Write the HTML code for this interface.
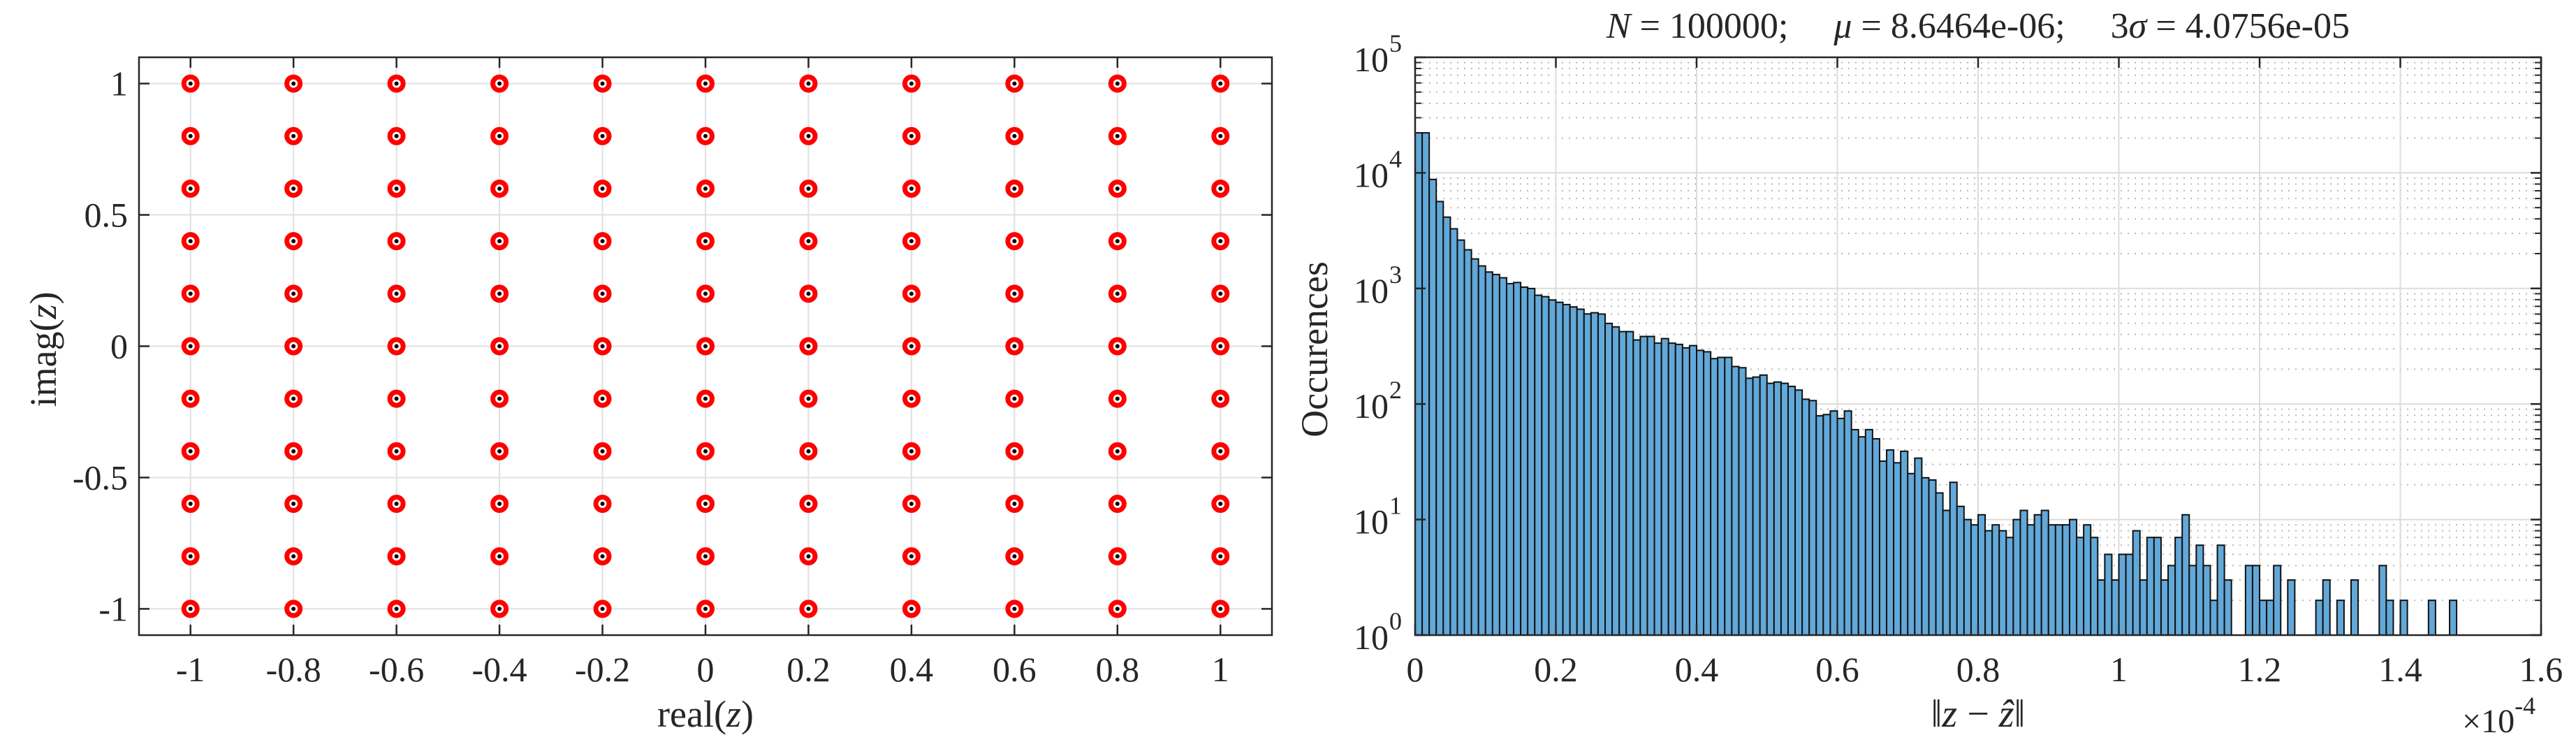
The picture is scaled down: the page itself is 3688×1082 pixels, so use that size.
<!DOCTYPE html>
<html><head><meta charset="utf-8"><style>
html,body{margin:0;padding:0;background:#fff}
svg{display:block;font-family:"Liberation Serif",serif}
.pre{white-space:pre}
</style></head><body>
<svg id="fig" width="3688" height="1082" viewBox="0 0 3688 1082" xmlns="http://www.w3.org/2000/svg">
<g id="left"></g>
<g id="right"></g>
</svg>
<script>
// ---- Left chart data ----
const gridRe = [-1,-0.8,-0.6,-0.4,-0.2,0,0.2,0.4,0.6,0.8,1];
const gridIm = [-1,-0.8,-0.6,-0.4,-0.2,0,0.2,0.4,0.6,0.8,1];
const leftXTicks = [-1,-0.8,-0.6,-0.4,-0.2,0,0.2,0.4,0.6,0.8,1];
const leftXTickLabels = ["-1","-0.8","-0.6","-0.4","-0.2","0","0.2","0.4","0.6","0.8","1"];
const leftYTicks = [-1,-0.5,0,0.5,1];
const leftYTickLabels = ["-1","-0.5","0","0.5","1"];
// ---- Right chart data ----
const binWidth = 1e-6;
const counts = [22200,22200,8770,5650,4140,3280,2620,2160,1800,1565,1387,1320,1236,1100,1125,1026,998,873,849,795,759,725,692,661,602,616,600,498,465,423,423,358,384,384,336,368,336,328,306,320,291,283,247,253,253,211,206,167,171,178,151,155,151,142,132,110,107,79,81,87,75,87,60,52,60,50,32,40,31,39,25,34,23,22,17,12,21,13,10,9,11,8,9,8,7,10,12,9,11,12,9,9,9,10,7,9,7,3,5,3,5,5,8,3,7,7,3,4,7,11,4,6,4,2,6,3,0,0,4,4,2,2,4,0,3,0,0,0,2,3,0,2,0,3,0,0,0,4,2,0,2,0,0,0,2,0,0,2];
const rightXTicks = [0,0.2e-4,0.4e-4,0.6e-4,0.8e-4,1e-4,1.2e-4,1.4e-4,1.6e-4];
const rightXTickLabels = ["0","0.2","0.4","0.6","0.8","1","1.2","1.4","1.6"];
const rightYExps = [0,1,2,3,4,5];

const NS="http://www.w3.org/2000/svg";
function mk(parent,tag,attrs,text){const e=document.createElementNS(NS,tag);for(const k in attrs)e.setAttribute(k,attrs[k]);if(text!==undefined)e.textContent=text;parent.appendChild(e);return e;}
const AX="#262626";
const TF=50;

// ===== Left =====
const L=document.getElementById('left');
const lx0=199,lx1=1821,ly0=82,ly1=909;
const lxs=v=>lx0+(v+1.1)/2.2*(lx1-lx0);
const lys=v=>ly1-(v+1.1)/2.2*(ly1-ly0);
for(const t of leftXTicks){const g=mk(L,'line',{x1:lxs(t),x2:lxs(t),y1:ly0,y2:ly1,stroke:'#e0e0e0','stroke-width':2});

}
for(const t of leftYTicks){const g=mk(L,'line',{x1:lx0,x2:lx1,y1:lys(t),y2:lys(t),stroke:'#e0e0e0','stroke-width':2});

}
for(const re of gridRe){for(const im of gridIm){
  const g=mk(L,'g',{});
  
  
  mk(g,'circle',{cx:lxs(re),cy:lys(im),r:9.5,fill:'#fff',stroke:'#ff0000','stroke-width':7});
  mk(g,'circle',{cx:lxs(re),cy:lys(im),r:3,fill:'#000'});
}}
const lbox=mk(L,'rect',{x:lx0,y:ly0,width:lx1-lx0,height:ly1-ly0,fill:'none',stroke:AX,'stroke-width':2.5});


leftXTicks.forEach((t,i)=>{
  mk(L,'line',{x1:lxs(t),x2:lxs(t),y1:ly1,y2:ly1-15,stroke:AX,'stroke-width':2.5});
  mk(L,'line',{x1:lxs(t),x2:lxs(t),y1:ly0,y2:ly0+15,stroke:AX,'stroke-width':2.5});
  const tx=mk(L,'text',{x:lxs(t),y:975,'text-anchor':'middle','font-size':TF,fill:AX},leftXTickLabels[i]);
  
  
});
leftYTicks.forEach((t,i)=>{
  mk(L,'line',{x1:lx0,x2:lx0+15,y1:lys(t),y2:lys(t),stroke:AX,'stroke-width':2.5});
  mk(L,'line',{x1:lx1,x2:lx1-15,y1:lys(t),y2:lys(t),stroke:AX,'stroke-width':2.5});
  const tx=mk(L,'text',{x:183,y:lys(t)+17,'text-anchor':'end','font-size':TF,fill:AX},leftYTickLabels[i]);
  
  
});
const lxl=mk(L,'text',{x:1010,y:1040,'text-anchor':'middle','font-size':54,fill:AX});


lxl.innerHTML='real(<tspan font-style="italic">z</tspan>)';
const lyl=mk(L,'text',{x:0,y:0,'text-anchor':'middle','font-size':54,fill:AX,transform:'translate(80,500) rotate(-90)'});


lyl.innerHTML='imag(<tspan font-style="italic">z</tspan>)';

// ===== Right =====
const R=document.getElementById('right');
const rx0=2026,rx1=3638,ry0=82,ry1=909;
const rxs=v=>rx0+v/1.6e-4*(rx1-rx0);
const rys=v=>ry1-Math.log10(Math.max(v,1))/5*(ry1-ry0);
for(let e=0;e<5;e++)for(let m=2;m<=9;m++){const y=rys(m*Math.pow(10,e));
  const g=mk(R,'line',{x1:rx0,x2:rx1,y1:y,y2:y,stroke:'#b8b8b8','stroke-width':2,'stroke-dasharray':'2 8'});
  
  
  mk(R,'line',{x1:rx0,x2:rx0+9,y1:y,y2:y,stroke:AX,'stroke-width':2});
  mk(R,'line',{x1:rx1,x2:rx1-9,y1:y,y2:y,stroke:AX,'stroke-width':2});
}
for(const t of rightXTicks){const g=mk(R,'line',{x1:rxs(t),x2:rxs(t),y1:ry0,y2:ry1,stroke:'#dcdcdc','stroke-width':2});

}
for(const e of rightYExps){const y=rys(Math.pow(10,e));const g=mk(R,'line',{x1:rx0,x2:rx1,y1:y,y2:y,stroke:'#dcdcdc','stroke-width':2});

}
counts.forEach((c,i)=>{
  if(c<=0)return;
  const x=rxs(i*binWidth),w=rxs((i+1)*binWidth)-x,y=rys(c);
  const b=mk(R,'rect',{x:x,y:y,width:w,height:ry1-y,fill:'#62a8d8',stroke:'#111','stroke-width':2});
  
  
});
const rbox=mk(R,'rect',{x:rx0,y:ry0,width:rx1-rx0,height:ry1-ry0,fill:'none',stroke:AX,'stroke-width':2.5});


rightXTicks.forEach((t,i)=>{
  mk(R,'line',{x1:rxs(t),x2:rxs(t),y1:ry1,y2:ry1-15,stroke:AX,'stroke-width':2.5});
  mk(R,'line',{x1:rxs(t),x2:rxs(t),y1:ry0,y2:ry0+15,stroke:AX,'stroke-width':2.5});
  const tx=mk(R,'text',{x:rxs(t),y:975,'text-anchor':'middle','font-size':TF,fill:AX},rightXTickLabels[i]);
  
  
});
rightYExps.forEach(e=>{
  const y=rys(Math.pow(10,e));
  mk(R,'line',{x1:rx0,x2:rx0+15,y1:y,y2:y,stroke:AX,'stroke-width':2.5});
  mk(R,'line',{x1:rx1,x2:rx1-15,y1:y,y2:y,stroke:AX,'stroke-width':2.5});
  const tx=mk(R,'text',{x:1988,y:y+20,'text-anchor':'end','font-size':TF,fill:AX},'10');
  
  
  mk(R,'text',{x:1989,y:y-8,'font-size':36,fill:AX},String(e));
});
const title=mk(R,'text',{x:2832,y:54,'text-anchor':'middle','font-size':52,fill:AX,'class':'pre'});


title.innerHTML='<tspan font-style="italic">N</tspan> = 100000;     <tspan font-style="italic">μ</tspan> = 8.6464e-06;     3<tspan font-style="italic">σ</tspan> = 4.0756e-05';
const rxl=mk(R,'text',{x:2832,y:1040,'text-anchor':'middle','font-size':56,fill:AX});


rxl.innerHTML='‖<tspan font-style="italic">z</tspan> − <tspan font-style="italic">ẑ</tspan>‖';
const ryl=mk(R,'text',{x:0,y:0,'text-anchor':'middle','font-size':54,fill:AX,transform:'translate(1900,500) rotate(-90)'});


ryl.textContent='Occurences';
const mult=mk(R,'text',{x:3525,y:1048,'font-size':48,fill:AX});


mult.innerHTML='×10<tspan font-size="36" dy="-26">-4</tspan>';
</script>
</body></html>
